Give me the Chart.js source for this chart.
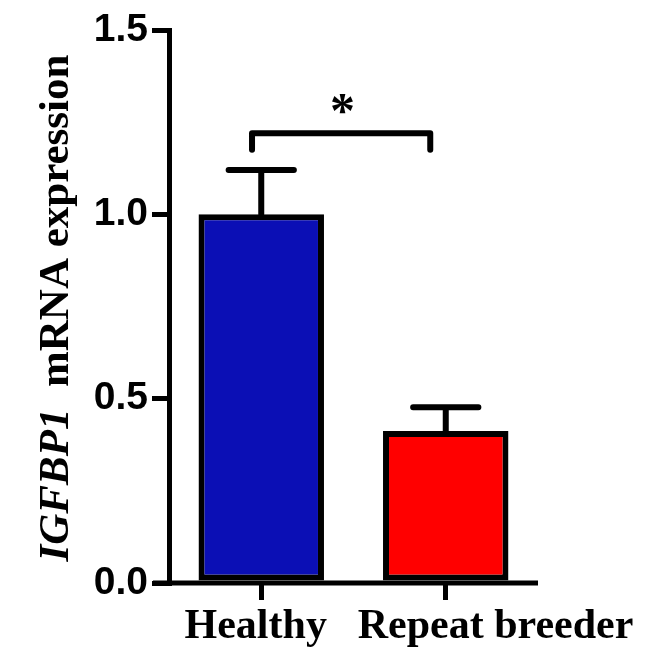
<!DOCTYPE html>
<html>
<head>
<meta charset="utf-8">
<script src="https://cdn.jsdelivr.net/npm/chart.js@4.4.0/dist/chart.umd.min.js"></script>
<style>
  html, body { margin: 0; padding: 0; background: #fff; }
  canvas { display: block; }
</style>
</head>
<body>
<canvas id="chart" width="646" height="659"></canvas>
<script>
// data
var groups = ["Healthy", "Repeat breeder"];
var means = [1.0, 0.412];
var errUpper = [1.12, 0.477];
var barColors = ["#0b0fb5", "#ff0000"];
var yTicks = [0.0, 0.5, 1.0, 1.5];

// significance bracket (x in category units, y in data units)
var bracketX = [-0.05, 0.916];
var bracketY = 1.22;
var bracketDrop = 1.175;
var starX = 0.44;
var starY = 1.30;

// the group labels are not quite centred on their ticks in the original
var labelShift = [-0.03, 0.27];

var serif = "'Liberation Serif', 'Times New Roman', serif";
var sans = "'Liberation Sans', Arial, sans-serif";

function catPixel(scale, v) {
    var p0 = scale.getPixelForValue(0);
    var p1 = scale.getPixelForValue(1);
    return p0 + v * (p1 - p0);
}

var extras = {
    id: "extras",
    afterDatasetsDraw: function (chart) {
        var ctx = chart.ctx;
        var xs = chart.scales.x;
        var ys = chart.scales.y;
        var area = chart.chartArea;
        var meta = chart.getDatasetMeta(0);
        ctx.save();
        ctx.strokeStyle = "#000";
        ctx.fillStyle = "#000";
        ctx.lineCap = "round";
        ctx.lineWidth = 6;

        // error bars (upper only)
        for (var i = 0; i < means.length; i++) {
            var bar = meta.data[i];
            var cx = bar.x;
            var yTop = ys.getPixelForValue(means[i]);
            var yErr = ys.getPixelForValue(errUpper[i]);
            var half = bar.width * 0.26;
            ctx.beginPath();
            ctx.moveTo(cx, yTop);
            ctx.lineTo(cx, yErr);
            ctx.moveTo(cx - half, yErr);
            ctx.lineTo(cx + half, yErr);
            ctx.stroke();
        }

        // x axis line, sticking out a bit left of the y axis
        ctx.lineCap = "butt";
        ctx.lineWidth = 5;
        ctx.beginPath();
        ctx.moveTo(area.left - 16, area.bottom);
        ctx.lineTo(area.right, area.bottom);
        ctx.stroke();

        // group labels
        ctx.font = "bold 42px " + serif;
        ctx.textAlign = "center";
        ctx.textBaseline = "alphabetic";
        for (var j = 0; j < groups.length; j++) {
            ctx.fillText(groups[j], catPixel(xs, j + labelShift[j]), area.bottom + 55);
        }

        // bracket
        var bx0 = catPixel(xs, bracketX[0]);
        var bx1 = catPixel(xs, bracketX[1]);
        var by = ys.getPixelForValue(bracketY);
        var bd = ys.getPixelForValue(bracketDrop);
        ctx.lineWidth = 6;
        ctx.lineCap = "round";
        ctx.lineJoin = "round";
        ctx.beginPath();
        ctx.moveTo(bx0, bd);
        ctx.lineTo(bx0, by);
        ctx.lineTo(bx1, by);
        ctx.lineTo(bx1, bd);
        ctx.stroke();

        // asterisk
        ctx.font = "bold 50px " + serif;
        ctx.textAlign = "center";
        ctx.textBaseline = "middle";
        ctx.fillText("*", catPixel(xs, starX), ys.getPixelForValue(starY) + 10);

        // y axis title, italic gene name + plain text
        ctx.translate(68, 308);
        ctx.rotate(-Math.PI / 2);
        ctx.textBaseline = "alphabetic";
        ctx.textAlign = "left";
        var f1 = "italic bold 43px " + serif;
        var f2 = "bold 43px " + serif;
        var t1 = "IGFBP1";
        var t2 = "  mRNA expression";
        ctx.font = f1;
        var w1 = ctx.measureText(t1).width;
        ctx.font = f2;
        var w2 = ctx.measureText(t2).width;
        var start = -(w1 + w2) / 2;
        ctx.font = f1;
        ctx.fillText(t1, start, 0);
        ctx.font = f2;
        ctx.fillText(t2, start + w1, 0);
        ctx.restore();
    }
};

new Chart(document.getElementById("chart"), {
    type: "bar",
    data: {
        labels: groups,
        datasets: [{
            data: means,
            backgroundColor: barColors,
            borderColor: "#000",
            borderWidth: 6,
            borderSkipped: false,
            categoryPercentage: 1.0,
            barPercentage: 0.68
        }]
    },
    options: {
        responsive: false,
        animation: false,
        devicePixelRatio: 1,
        layout: { padding: { left: 0, right: 108, top: 30, bottom: 0 } },
        plugins: {
            legend: { display: false },
            tooltip: { enabled: false }
        },
        scales: {
            x: {
                grid: {
                    display: true,
                    drawOnChartArea: false,
                    offset: false,
                    tickLength: 17,
                    lineWidth: 5,
                    color: "#000"
                },
                border: { display: false },
                ticks: { display: false },
                afterFit: function (scale) { scale.height = 76; }
            },
            y: {
                min: 0,
                max: 1.5,
                afterBuildTicks: function (scale) {
                    scale.ticks = yTicks.map(function (v) { return { value: v }; });
                },
                grid: {
                    display: true,
                    drawOnChartArea: false,
                    tickLength: 17,
                    lineWidth: 5,
                    color: "#000"
                },
                border: { display: true, color: "#000", width: 5 },
                ticks: {
                    color: "#000",
                    padding: 4,
                    font: { family: sans, size: 39, weight: "bold" },
                    callback: function (v) { return Number(v).toFixed(1); }
                },
                afterFit: function (scale) { scale.width = 169; }
            }
        }
    },
    plugins: [extras]
});
</script>
</body>
</html>
